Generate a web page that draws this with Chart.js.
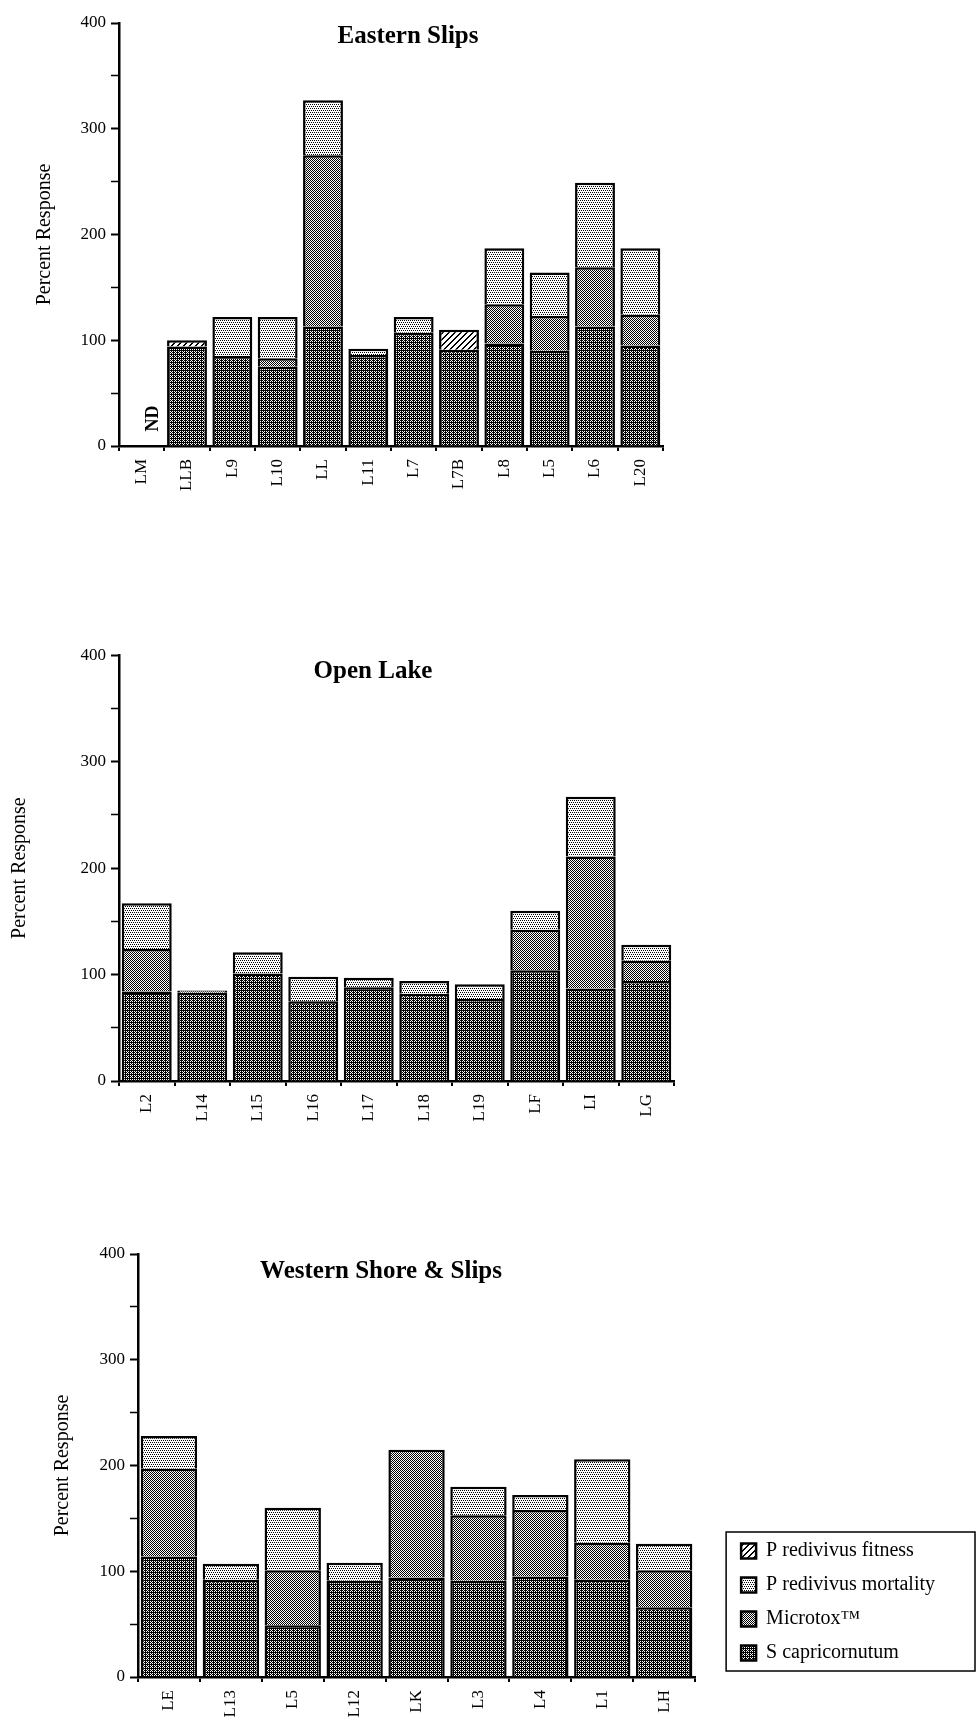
<!DOCTYPE html>
<html>
<head>
<meta charset="utf-8">
<title>Percent Response</title>
<script src="https://cdn.jsdelivr.net/npm/chart.js@4.4.1/dist/chart.umd.min.js"></script>
<style>
  html, body { margin: 0; background: #fff; }
  #page { position: relative; width: 980px; height: 1732px; overflow: hidden; background: #fff; }
  canvas { position: absolute; left: 0; }
  .ttl { position: absolute; font: bold 25px "Liberation Serif", serif; line-height: 25px;
         white-space: nowrap; transform: translateX(-50%); color: #000; }
</style>
</head>
<body>
<div id="page">
  <canvas id="east" width="700" height="520" style="top:0"></canvas>
  <canvas id="open" width="700" height="500" style="top:640px"></canvas>
  <canvas id="west" width="980" height="502" style="top:1230px"></canvas>
  <div class="ttl" style="left:408px; top:22px">Eastern Slips</div>
  <div class="ttl" style="left:373px; top:657px">Open Lake</div>
  <div class="ttl" style="left:381px; top:1257px">Western Shore &amp; Slips</div>
</div>
<script>
// series, bottom to top of each stack
const seriesNames = ["S capricornutum", "Microtox™", "P redivivus mortality", "P redivivus fitness"];

// Eastern Slips
const eastSites = ["LM", "LLB", "L9", "L10", "LL", "L11", "L7", "L7B", "L8", "L5", "L6", "L20"];
const eastScap  = [null, 94, 85, 75, 113, 86, 107, 91, 97, 90, 113, 95];
const eastMicro = [null, 0, 0, 8, 162, 0, 0, 0, 37, 33, 56, 29];
const eastMort  = [null, 0, 37, 39, 52, 6, 15, 0, 53, 41, 80, 63];
const eastFit   = [null, 6, 0, 0, 0, 0, 0, 19, 0, 0, 0, 0];

// Open Lake
const openSites = ["L2", "L14", "L15", "L16", "L17", "L18", "L19", "LF", "LI", "LG"];
const openScap  = [84, 83, 101, 75, 88, 82, 77, 104, 87, 94];
const openMicro = [40, 2, 0, 0, 0, 0, 0, 38, 124, 19];
const openMort  = [43, 0, 20, 23, 9, 12, 14, 18, 56, 15];
const openFit   = [0, 0, 0, 0, 0, 0, 0, 0, 0, 0];

// Western Shore & Slips
const westSites = ["LE", "L13", "L5", "L12", "LK", "L3", "L4", "L1", "LH"];
const westScap  = [114, 92, 49, 91, 94, 91, 95, 92, 66];
const westMicro = [83, 0, 52, 0, 121, 62, 63, 35, 35];
const westMort  = [31, 15, 59, 17, 0, 27, 14, 79, 25];
const westFit   = [0, 0, 0, 0, 0, 0, 0, 0, 0];

const yTicks = { min: 0, max: 400, major: 100, minor: 50 };
const axisTitle = "Percent Response";
const noData = { text: "ND", site: "LM", at: 26 };

const serif = "'Liberation Serif', 'Times New Roman', serif";

// halftone fills like the printed figure
function tile(size, paint) {
  const c = document.createElement("canvas");
  c.width = c.height = size;
  const g = c.getContext("2d");
  g.fillStyle = "#fff";
  g.fillRect(0, 0, size, size);
  g.fillStyle = "#000";
  paint(g, size);
  return g.createPattern(c, "repeat");
}
const dots = pts => g => pts.forEach(([x, y]) => g.fillRect(x, y, 1, 1));

const fills = [
  tile(4, dots([[0,0],[2,0],[1,1],[3,1],[0,2],[2,2],[1,3],[3,3],[1,0],[3,2],[1,2]])),
  tile(2, dots([[0,0],[1,1]])),
  tile(4, dots([[0,0],[2,0],[1,2],[3,2]])),
  tile(6, (g, n) => {
    for (let x = 0; x < n; x++) for (let y = 0; y < n; y++)
      if ((x + y) % n === 0 || (x + y) % n === 1) g.fillRect(x, y, 1, 1);
  })
];

const ndPlugin = {
  id: "nd",
  afterDatasetsDraw(chart, args, opts) {
    if (!opts || !opts.text) return;
    const { ctx, scales } = chart;
    const x = scales.x.getPixelForValue(scales.x.getLabels().indexOf(opts.site) + 0.25);
    const y = scales.y.getPixelForValue(opts.at);
    ctx.save();
    ctx.translate(x, y);
    ctx.rotate(-Math.PI / 2);
    ctx.font = "bold 18px " + serif;
    ctx.fillStyle = "#000";
    ctx.textAlign = "center";
    ctx.textBaseline = "middle";
    ctx.fillText(opts.text, 0, 0);
    ctx.restore();
  }
};

const legendFrame = {
  id: "legendFrame",
  afterDraw(chart) {
    const lg = chart.legend;
    if (!lg || !lg.options.display || !lg.legendHitBoxes.length) return;
    const b = lg.legendHitBoxes;
    const l = Math.min(...b.map(h => h.left)) - 15;
    const t = Math.min(...b.map(h => h.top)) - 9;
    const r = Math.max(...b.map(h => h.left + h.width)) + 40;
    const btm = Math.max(...b.map(h => h.top + h.height)) + 8;
    const ctx = chart.ctx;
    ctx.save();
    ctx.strokeStyle = "#000";
    ctx.lineWidth = 1.5;
    ctx.strokeRect(l, t, r - l, btm - t);
    ctx.restore();
  }
};

function stackedChart(id, c) {
  const datasets = [c.scap, c.micro, c.mort, c.fit].map((data, i) => ({
    label: seriesNames[i],
    data,
    backgroundColor: fills[i],
    borderColor: "#000",
    borderWidth: 2.5,
    barPercentage: c.barPct,
    categoryPercentage: 1
  }));
  const scales = {
    x: {
      stacked: true,
      afterFit: s => { s.height = 50; },
      border: { color: "#000", width: 2.5 },
      grid: { drawOnChartArea: false, color: "#000", lineWidth: 2, tickLength: 5, offset: true },
      ticks: { autoSkip: false, minRotation: 90, maxRotation: 90, padding: 8, color: "#000",
               font: { family: serif, size: 17 } }
    },
    y: {
      stacked: true,
      min: yTicks.min,
      max: yTicks.max,
      afterFit: s => { s.width = c.yWidth; },
      border: { color: "#000", width: 2.5 },
      grid: {
        drawOnChartArea: false, color: "#000", tickLength: 8,
        tickWidth: ctx => (ctx.tick && ctx.tick.value % yTicks.major === 0) ? 2 : 1.5
      },
      ticks: {
        stepSize: yTicks.minor, padding: 5, color: "#000",
        font: { family: serif, size: 17 },
        callback: v => (v % yTicks.major === 0 ? v : "")
      },
      title: { display: true, text: axisTitle, color: "#000",
               font: { family: serif, size: 20 }, padding: { top: c.titlePad, bottom: 0 } }
    }
  };
  if (c.gap) {
    scales.y2 = {
      type: "linear", position: "right", display: true,
      grid: { display: false }, ticks: { display: false }, border: { display: false },
      afterFit: s => { s.width = c.gap; }
    };
  }
  return new Chart(document.getElementById(id), {
    type: "bar",
    data: { labels: c.labels, datasets },
    options: {
      responsive: false,
      animation: false,
      devicePixelRatio: 1,
      layout: { padding: c.padding },
      plugins: {
        legend: c.legend || { display: false },
        tooltip: { enabled: false },
        nd: c.nd || {}
      },
      scales
    },
    plugins: [ndPlugin, legendFrame]
  });
}

stackedChart("east", {
  labels: eastSites, scap: eastScap, micro: eastMicro, mort: eastMort, fit: eastFit,
  barPct: 0.88, yWidth: 119, titlePad: 33,
  padding: { left: 0, top: 23, right: 37, bottom: 24 },
  nd: noData
});

stackedChart("open", {
  labels: openSites, scap: openScap, micro: openMicro, mort: openMort, fit: openFit,
  barPct: 0.9, yWidth: 119, titlePad: 8,
  padding: { left: 0, top: 15, right: 26, bottom: 9 }
});

stackedChart("west", {
  labels: westSites, scap: westScap, micro: westMicro, mort: westMort, fit: westFit,
  barPct: 0.91, yWidth: 138, titlePad: 51, gap: 32,
  padding: { left: 0, top: 24, right: 35, bottom: 5 },
  legend: {
    display: true, position: "right", align: "end", fullSize: false, reverse: true,
    maxWidth: 300,
    labels: { boxWidth: 15, boxHeight: 15, padding: 14, color: "#000",
              font: { family: serif, size: 20 } }
  }
});
</script>
</body>
</html>
